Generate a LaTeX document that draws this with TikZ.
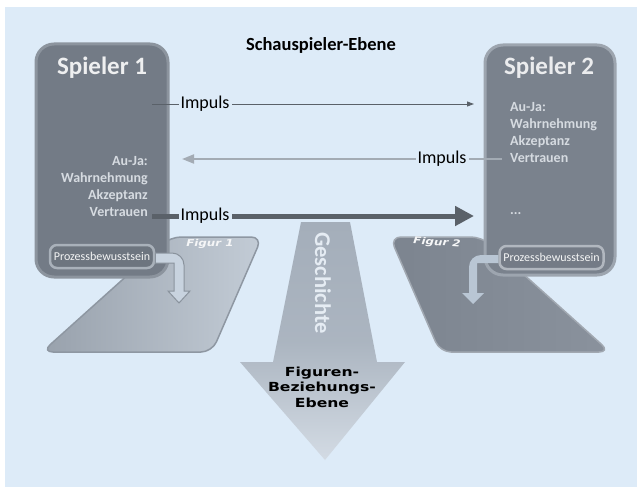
\documentclass[tikz,border=0pt]{standalone}
\usepackage{fontspec}
\setmainfont{Carlito}
\newfontfamily\widefont[FakeStretch=1.25]{DejaVu Sans}
\usetikzlibrary{arrows.meta,positioning}
\definecolor{bgblue}{HTML}{DDEBF8}
\definecolor{boxone}{HTML}{737B86}
\definecolor{rimone}{HTML}{8C949E}
\definecolor{boxtwo}{HTML}{7A828D}
\definecolor{rimtwo}{HTML}{9DA5AF}
\definecolor{proclight}{HTML}{A9B1BA}
\definecolor{boxtext}{HTML}{D6DBE1}
\definecolor{impdark}{HTML}{5A6169}
\definecolor{implight}{HTML}{A3ABB4}
\definecolor{figtop}{HTML}{98A1AC}
\definecolor{figbot}{HTML}{C3CCD6}
\definecolor{figrim}{HTML}{8E97A2}
\definecolor{figdark}{HTML}{7C848F}
\definecolor{figdarkb}{HTML}{8A929D}
\definecolor{gesctop}{HTML}{A4AEBA}
\definecolor{gescbot}{HTML}{D3DBE4}
\definecolor{gesctext}{HTML}{E5ECF3}
\definecolor{bentfill}{HTML}{C8D3DF}
\definecolor{bentrim}{HTML}{8A939D}
\definecolor{benttwo}{HTML}{B9C6D4}

\begin{document}
\begin{tikzpicture}[x=1pt,y=-1pt,every node/.style={inner sep=0pt},
  spielerbox/.style={rounded corners=18pt, line width=3pt, inner sep=0pt},
  procbox/.style={draw=proclight, fill=boxone!95!black, rounded corners=7pt,
    line width=2.5pt, minimum width=104pt, minimum height=23pt,
    font=\fontsize{12}{14}\selectfont, text=white!92!boxone},
  titletext/.style={font=\bfseries\fontsize{25}{28}\selectfont, text=white!88!boxone},
  ajatext/.style={font=\bfseries\fontsize{14}{17}\selectfont, text=boxtext},
  implabel/.style={fill=bgblue, inner sep=2pt, font=\fontsize{18}{20}\selectfont},
  figlabel/.style={font=\widefont\bfseries\itshape\fontsize{9.5}{10}\selectfont, text=white!90!figtop}]

% Background
\fill[white] (0,0) rectangle (637,487);
\fill[bgblue] (5,7) rectangle (637,487);
\useasboundingbox (0,0) rectangle (637,487);

% Figur planes
\shade[left color=figtop, right color=figbot, draw=figrim, line width=1.5pt,
  rounded corners=11pt] (170,237) -- (262,237) -- (212,352) -- (42,352) -- cycle;
\shade[left color=figdark, right color=figdarkb, draw=figdarkb!80!white, line width=1.5pt,
  rounded corners=11pt] (390,237) -- (482,237) -- (610,352) -- (440,352) -- cycle;
\node[figlabel] (fig1) at (210,244) {Figur 1};
\node[figlabel, rotate=-4] (fig2) at (437,243) {Figur 2};

% Geschichte arrow
\shade[top color=gesctop, bottom color=gescbot, middle color=gesctop!85!gescbot]
  (301,222) -- (350,222) -- (377,362) -- (405,362) -- (325,460) -- (240,362)
  -- (273,362) -- cycle;
\node[rotate=-90, font=\bfseries\fontsize{22.5}{24}\selectfont, text=gesctext] (gesch)
  at (323,283) {Geschichte};
\node[align=center, font=\widefont\bfseries\fontsize{12.5}{15.5}\selectfont] (fbe)
  at (322,387) {Figuren-\\Beziehungs-\\Ebene};

% Title
\node[font=\bfseries\fontsize{18.5}{20}\selectfont] (schau) at (321,45) {Schauspieler-Ebene};

% Spieler 1
\node[spielerbox, fill=boxone, draw=rimone, minimum width=132pt, minimum height=233pt]
  (sp1) at (102,160.5) {};
\node[titletext] (sp1title) at (102,68) {Spieler 1};
\node[ajatext, align=right, anchor=north east] (sp1aja) at (148,156)
  {Au-Ja:\\Wahrnehmung\\Akzeptanz\\Vertrauen};
\node[procbox] (sp1proc) at (102,256.5) {Prozessbewusstsein};

% Spieler 2
\node[spielerbox, fill=boxtwo, draw=rimtwo, minimum width=130pt, minimum height=230pt]
  (sp2) at (550,160) {};
\node[titletext, text=white!85!boxtwo] (sp2title) at (549,68) {Spieler 2};
\node[ajatext, align=left, anchor=north west] (sp2aja) at (510,102)
  {Au-Ja:\\Wahrnehmung\\Akzeptanz\\Vertrauen};
\node[ajatext, anchor=west] (sp2dots) at (510,214) {...};
\node[procbox, fill=boxtwo!95!black, draw=rimtwo!80!white] (sp2proc) at (551.5,257.5)
  {Prozessbewusstsein};

% Impulse
\coordinate (i1start) at (152,104);
\coordinate (i1end) at (474,104);
\coordinate (i2start) at (502,159);
\coordinate (i2end) at (182,159);
\coordinate (i3start) at (152,216);
\coordinate (i3end) at (474,216);
\draw[impdark, line width=0.9pt, -{Triangle[length=7pt,width=5pt]}] (i1start) -- (i1end);
\draw[implight, line width=2pt, -{Triangle[length=12pt,width=9pt]}] (i2start) -- (i2end);
\draw[impdark, line width=5pt, -{Triangle[length=19pt,width=19pt]}] (i3start) -- (i3end);
\node[implabel] (imp1) at (205,104) {Impuls};
\node[implabel] (imp2) at (442,159) {Impuls};
\node[implabel] (imp3) at (205,216) {Impuls};

% Prozess arrows
\draw[fill=bentfill, draw=bentrim, line width=1pt]
  (sp1proc.east |- 0,253) -- (172,253) arc[start angle=90,end angle=0,radius=12pt]
  -- (184,291) -- (190,291) -- (179,303) -- (168,291) -- (174,291) -- (174,263)
  -- (sp1proc.east |- 0,263) -- cycle;
\fill[benttwo]
  (sp2proc.west |- 0,255) -- (481,255) arc[start angle=90,end angle=180,radius=12pt]
  -- (469,293) -- (462,293) -- (473,304) -- (484,293) -- (477,293) -- (477,263)
  -- (sp2proc.west |- 0,263) -- cycle;

\end{tikzpicture}
\end{document}
